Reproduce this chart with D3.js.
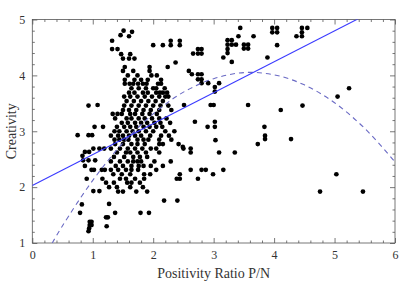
<!DOCTYPE html>
<html>
<head>
<meta charset="utf-8">
<script src="https://cdn.jsdelivr.net/npm/d3@7"></script>
<style>
  body { margin: 0; background: #fff; }
  svg { display: block; }
  text { font-family: "Liberation Serif", "DejaVu Serif", serif; fill: #333; }
</style>
</head>
<body>
<script>
// scores: [positivity ratio, creativity]
var outliers = [
  [0.75,2.93],[0.93,2.93],[0.99,2.93],[0.93,3.46],[1.08,3.47],[1.03,3.08],[1.17,3.08],
  [0.87,2.63],[0.94,2.63],[0.83,2.56],[1.01,2.69],[1.11,2.69],[1.19,2.69],
  [0.84,2.48],[0.93,2.48],[1.04,2.48],[0.87,2.38],[0.98,2.31],[1.02,2.31],
  [0.9,2.15],[1.16,2.15],[1.15,2.31],[1.2,2.31],[1.01,1.93],[1.11,1.93],
  [0.82,1.69],[0.79,1.54],[0.95,1.38],[0.98,1.38],[0.95,1.32],[0.98,1.32],[0.94,1.26],[0.93,1.21],
  [1.22,1.46],[1.25,1.46],[1.23,1.3],[1.27,1.7],[1.37,1.54],
  [1.32,4.62],[1.32,4.47],[1.41,4.47],[1.46,4.72],[1.51,4.8],[1.6,4.7],[1.65,4.78],
  [1.62,4.38],[1.6,4.3],[1.69,4.3],[1.47,4.38],[1.5,4.3],[1.53,4.15],[1.94,4.15],
  [2.0,4.54],[2.16,4.54],[2.29,4.62],[2.29,4.54],[2.44,4.62],[2.44,4.54],
  [2.24,4.15],[2.37,4.23],[2.59,4.08],[2.66,4.39],[2.74,4.47],[2.8,4.47],[2.74,4.39],[2.8,4.39],
  [2.64,4.02],[2.74,4.02],[2.8,4.02],[2.74,3.93],[2.8,3.93],[2.8,3.86],[2.91,3.86],[3.09,3.86],
  [3.02,3.79],[3.02,3.71],[2.51,3.47],[2.95,3.47],[3.0,3.47],[3.57,3.47],
  [2.69,3.17],[2.9,3.08],[3.02,3.08],[3.02,3.17],[3.84,3.08],
  [3.16,4.32],[3.3,4.24],[3.23,4.63],[3.3,4.63],[3.23,4.55],[3.3,4.55],[3.37,4.55],[3.23,4.47],[3.23,4.4],
  [3.5,4.55],[3.57,4.55],[3.5,4.48],[3.57,4.48],[3.44,4.85],[3.41,4.7],[3.66,4.7],
  [3.97,4.85],[4.05,4.85],[3.97,4.77],[4.05,4.77],[4.46,4.85],[4.55,4.85],[4.46,4.77],[4.37,4.7],[4.46,4.7],
  [4.05,4.54],[3.89,4.32],[5.24,3.77],[5.05,3.62],[4.47,3.46],[4.11,3.38],
  [3.85,2.92],[3.85,2.86],[4.28,2.86],[5.03,2.23],[4.76,1.92],[5.47,1.92],
  [3.03,2.84],[3.09,2.62],[3.35,2.62],[3.73,2.77],[2.62,2.69],[2.62,2.62],[2.5,2.69],[2.42,2.77],
  [2.29,2.46],[2.62,2.31],[2.8,2.31],[2.87,2.31],[2.99,2.23],[3.16,2.31],[2.74,2.15],
  [2.39,2.15],[2.44,2.23],[2.44,2.15],[2.18,1.76],[2.4,1.76],[1.79,1.54],[1.93,1.54],
  [2.25,3.62],[2.3,3.38],[2.28,3.15],[2.35,3.0],[2.26,2.92],[2.3,2.85],[2.49,2.72],[2.16,2.38]
];

// the dense middle of the cloud, row by row
var rowLevels = [1.92,2.0,2.08,2.15,2.23,2.31,2.38,2.46,2.54,2.62,2.69,2.77,2.85,2.92,3.0,
  3.08,3.15,3.23,3.31,3.38,3.46,3.54,3.62,3.69,3.77,3.85,3.92,4.0,4.08];
var rowRatios = [
  [1.42,1.5,1.72,1.9],
  [1.27,1.4,1.62,1.83],
  [1.22,1.35,1.57,1.64,1.78],
  [1.45,1.55,1.7,1.85],
  [1.34,1.48,1.62,1.85,1.95],
  [1.3,1.42,1.55,1.64,1.75,2.05],
  [1.38,1.5,1.64,1.76,1.84,1.96],
  [1.3,1.45,1.58,1.67,1.74,1.8,2.02],
  [1.35,1.52,1.67,1.78,1.9],
  [1.4,1.55,1.62,1.74,1.88,2.1],
  [1.3,1.45,1.58,1.7,1.82,1.96,2.05],
  [1.37,1.5,1.64,1.74,1.86,2.1,2.16],
  [1.36,1.44,1.52,1.59,1.74,1.84,1.92,2.1],
  [1.3,1.42,1.5,1.6,1.7,1.8,1.95,2.13],
  [1.36,1.44,1.56,1.66,1.76,1.88,2.0,2.2],
  [1.4,1.52,1.62,1.72,1.84,1.94,2.05,2.15],
  [1.48,1.58,1.7,1.8,1.9,2.02,2.12],
  [1.37,1.56,1.64,1.76,1.86,1.98,2.1,2.22],
  [1.33,1.41,1.48,1.62,1.7,1.82,1.94,2.06],
  [1.5,1.6,1.72,1.84,1.96,2.1],
  [1.52,1.64,1.76,1.88,2.0,2.12,2.25],
  [1.56,1.68,1.8,1.92,2.04,2.16],
  [1.52,1.62,1.74,1.86,1.98,2.1,2.2],
  [1.6,1.69,1.83,1.91,2.05,2.11,2.16,2.23],
  [1.64,1.76,1.88,2.0,2.05,2.19],
  [1.53,1.61,1.67,1.75,1.83,1.89,2.08,2.13],
  [1.53,1.69,1.8,1.91,2.13],
  [1.58,1.74,1.97,2.06],
  [1.5,1.67,1.94]
];

// fitted lines
var linearX = [0, 6],
    linearY = [2.03, 5.35];
var quadX = [0.33, 0.5, 1.0, 1.5, 2.0, 2.5, 3.0, 3.5, 4.0, 4.5, 5.0, 5.5, 6.0],
    quadY = [1.0, 1.31, 2.12, 2.79, 3.31, 3.70, 3.94, 4.05, 4.01, 3.83, 3.51, 3.05, 2.45];

var xMajor = [0, 1, 2, 3, 4, 5, 6],
    yMajor = [1, 2, 3, 4, 5];

var
  width   = 414,
  height  = 283,
  mLeft   = 32.3,
  mRight  = 395,
  mTop    = 19.5,
  mBottom = 243;

var x = d3.scaleLinear().domain([0, 6]).range([mLeft, mRight]),
    y = d3.scaleLinear().domain([1, 5]).range([mBottom, mTop]);

var xMinor = d3.range(0, 30.5).map(function(i) { return i / 5; }).filter(function(v) { return xMajor.indexOf(v) < 0; }),
    yMinor = d3.range(5, 25.5).map(function(i) { return i / 5; }).filter(function(v) { return yMajor.indexOf(v) < 0; });

var svg = d3.select('body').append('svg')
  .attr('width', width)
  .attr('height', height);

svg.append('defs').append('clipPath').attr('id', 'plot')
  .append('rect')
  .attr('x', mLeft).attr('y', mTop)
  .attr('width', mRight - mLeft).attr('height', mBottom - mTop);

function axis(gen, vals, size, fmt, tx) {
  var g = svg.append('g')
    .attr('transform', tx)
    .call(gen.tickValues(vals).tickSize(size).tickPadding(7).tickFormat(fmt));
  g.select('.domain').remove();
  g.selectAll('line').attr('stroke', '#555').attr('stroke-width', 0.8);
  g.selectAll('text').attr('font-size', 12).attr('fill', '#333')
    .style('font-family', '"Liberation Serif", serif');
  return g;
}

var none = function() { return ''; };
axis(d3.axisBottom(x), xMajor, -5, d3.format('d'), 'translate(0,' + mBottom + ')');
axis(d3.axisBottom(x), xMinor, -2.5, none, 'translate(0,' + mBottom + ')');
axis(d3.axisTop(x), xMajor, -5, none, 'translate(0,' + mTop + ')');
axis(d3.axisTop(x), xMinor, -2.5, none, 'translate(0,' + mTop + ')');
axis(d3.axisLeft(y), yMajor, -5, d3.format('d'), 'translate(' + mLeft + ',0)');
axis(d3.axisLeft(y), yMinor, -2.5, none, 'translate(' + mLeft + ',0)');
axis(d3.axisRight(y), yMajor, -5, none, 'translate(' + mRight + ',0)');
axis(d3.axisRight(y), yMinor, -2.5, none, 'translate(' + mRight + ',0)');

svg.append('rect')
  .attr('x', mLeft).attr('y', mTop)
  .attr('width', mRight - mLeft).attr('height', mBottom - mTop)
  .attr('fill', 'none')
  .attr('stroke', '#555')
  .attr('stroke-width', 0.8);

var scores = outliers.slice();
rowLevels.forEach(function(lv, i) {
  rowRatios[i].forEach(function(r) { scores.push([r, lv]); });
});

var plot = svg.append('g').attr('clip-path', 'url(#plot)');

plot.selectAll('circle')
  .data(scores)
  .enter().append('circle')
  .attr('cx', function(d) { return x(d[0]); })
  .attr('cy', function(d) { return y(d[1]); })
  .attr('r', 2.35)
  .attr('fill', '#000');

var line = d3.line()
  .x(function(d) { return x(d[0]); })
  .y(function(d) { return y(d[1]); });

plot.append('path')
  .datum(d3.zip(quadX, quadY))
  .attr('d', line.curve(d3.curveCatmullRom))
  .attr('fill', 'none')
  .attr('stroke', '#6a6ac4')
  .attr('stroke-width', 1.1)
  .attr('stroke-dasharray', '5,4');

plot.append('path')
  .datum(d3.zip(linearX, linearY))
  .attr('d', d3.line().x(function(d) { return x(d[0]); }).y(function(d) { return y(d[1]); }))
  .attr('fill', 'none')
  .attr('stroke', '#3a3aff')
  .attr('stroke-width', 1.1);

svg.append('text')
  .attr('x', (mLeft + mRight) / 2)
  .attr('y', 278)
  .attr('text-anchor', 'middle')
  .attr('font-size', 14)
  .text('Positivity Ratio P/N');

svg.append('text')
  .attr('transform', 'translate(16,' + (mTop + mBottom) / 2 + ') rotate(-90)')
  .attr('text-anchor', 'middle')
  .attr('font-size', 14)
  .text('Creativity');
</script>
</body>
</html>
